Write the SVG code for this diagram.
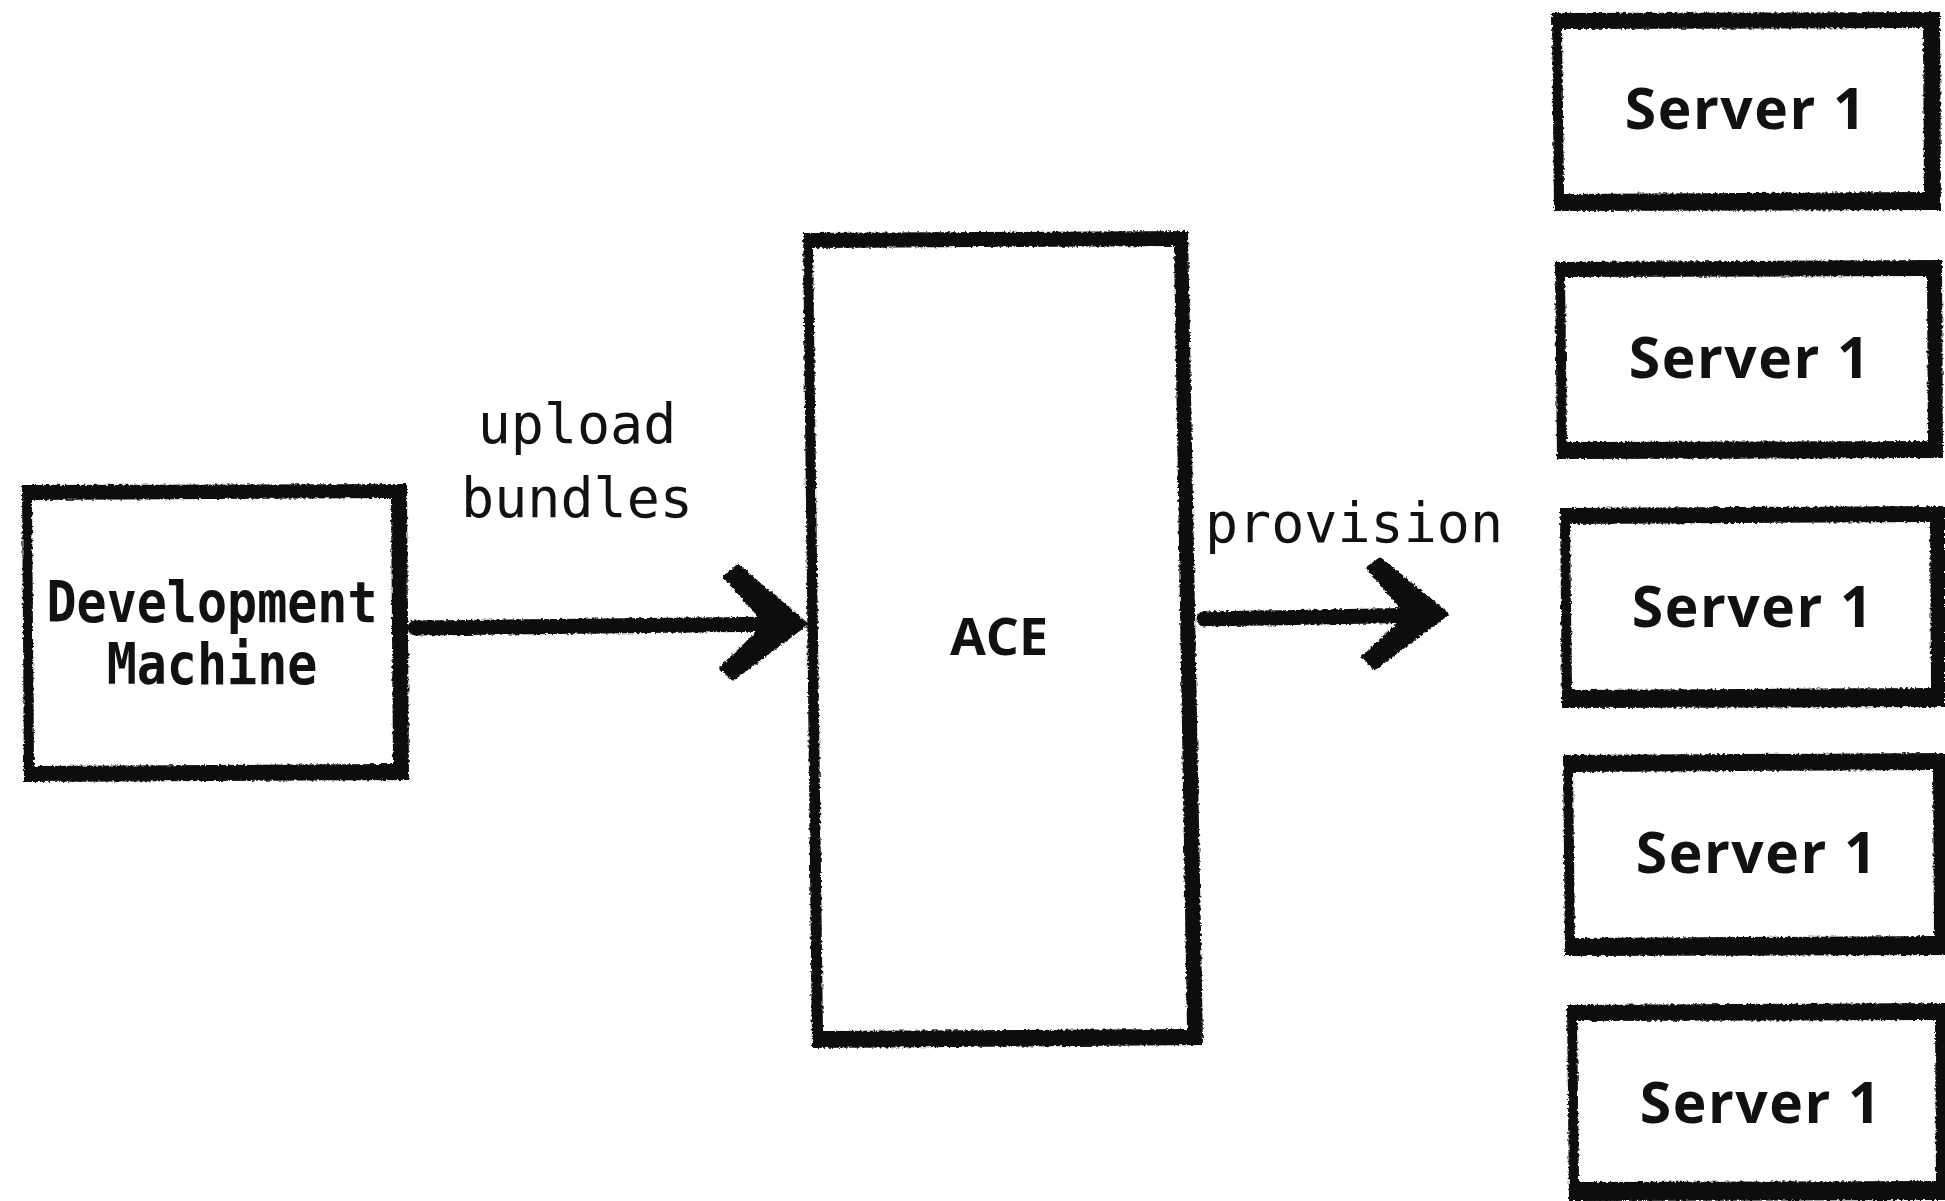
<svg xmlns="http://www.w3.org/2000/svg" width="1945" height="1201" viewBox="0 0 1945 1201">
  <defs>
    <filter id="rough" filterUnits="userSpaceOnUse" x="0" y="0" width="1945" height="1201">
      <feTurbulence type="fractalNoise" baseFrequency="0.35" numOctaves="2" seed="3" result="n"/>
      <feDisplacementMap in="SourceGraphic" in2="n" scale="4" xChannelSelector="R" yChannelSelector="G"/>
    </filter>
  </defs>
  <style>
    .box { fill: #0a0a0a; fill-rule: evenodd; stroke: none; filter: url(#rough); }
    .mono { font-family: "DejaVu Sans Mono", "Liberation Mono", monospace; fill: #111111; }
    .mb { font-weight: bold; font-size: 50px; text-anchor: middle; }
    .ml { font-size: 55px; }
    .sans { font-family: "Open Sans", "Noto Sans", "DejaVu Sans", sans-serif; font-weight: bold; fill: #111111; text-anchor: middle; }
    .srv { font-size: 57px; letter-spacing: 1.5px; }
    .shaft { fill: none; stroke: #0a0a0a; stroke-width: 15; stroke-linecap: round; filter: url(#rough); }
    .head { fill: #0a0a0a; stroke: #0a0a0a; stroke-width: 5; stroke-linejoin: round; filter: url(#rough); }
  </style>
  <rect width="1945" height="1201" fill="#ffffff"/>

  <g id="dev-machine">
    <path class="box" d="M22 485 L407 484 L409 780 L24 782 Z M32 500 L391 498 L393 764 L34 766 Z"/>
    <text class="mono mb" transform="translate(212 622) scale(1 1.15)" x="0" y="0">Development</text>
    <text class="mono mb" transform="translate(212 684) scale(1 1.15)" x="0" y="0">Machine</text>
  </g>

  <g id="ace">
    <path class="box" d="M803 233 L1188 231 L1203 1045 L812 1048 Z M813 248 L1174 246 L1187 1029 L823 1031 Z"/>
    <text class="sans" x="999" y="655" font-size="52">ACE</text>
  </g>

  <g id="server-1">
    <path class="box" d="M1552 13 L1940 12 L1941 210 L1554 211 Z M1562 29 L1923 28 L1924 192 L1564 194 Z"/>
    <text class="sans srv" x="1746" y="129">Server 1</text>
  </g>
  <g id="server-2">
    <path class="box" d="M1555 262 L1942 260 L1943 458 L1557 459 Z M1565 277 L1927 276 L1928 441 L1567 442 Z"/>
    <text class="sans srv" x="1750" y="378">Server 1</text>
  </g>
  <g id="server-3">
    <path class="box" d="M1560 508 L1945 506 L1945 707 L1562 708 Z M1570 524 L1930 522 L1931 688 L1572 690 Z"/>
    <text class="sans srv" x="1753" y="627">Server 1</text>
  </g>
  <g id="server-4">
    <path class="box" d="M1563 755 L1946 753 L1946 955 L1565 956 Z M1573 772 L1933 770 L1934 936 L1575 938 Z"/>
    <text class="sans srv" x="1757" y="873">Server 1</text>
  </g>
  <g id="server-5">
    <path class="box" d="M1567 1005 L1946 1003 L1946 1200 L1569 1201 Z M1577 1021 L1935 1020 L1936 1181 L1579 1182 Z"/>
    <text class="sans srv" x="1761" y="1123">Server 1</text>
  </g>

  <g id="connectors">
    <g id="upload-arrow">
      <path class="shaft" d="M415 628 L600 626 L785 624"/>
      <path class="head" d="M738 567 L805 624 L733 678 L722 668 L768 624 L726 577 Z"/>
      <text class="mono ml" x="577" y="443" text-anchor="middle">upload</text>
      <text class="mono ml" x="577" y="517" text-anchor="middle">bundles</text>
    </g>
    <g id="provision-arrow">
      <path class="shaft" d="M1204 619 L1320 617 L1430 615"/>
      <path class="head" d="M1380 560 L1446 614 L1375 667 L1364 657 L1409 615 L1369 568 Z"/>
      <text class="mono ml" x="1205" y="542">provision</text>
    </g>
  </g>
</svg>
